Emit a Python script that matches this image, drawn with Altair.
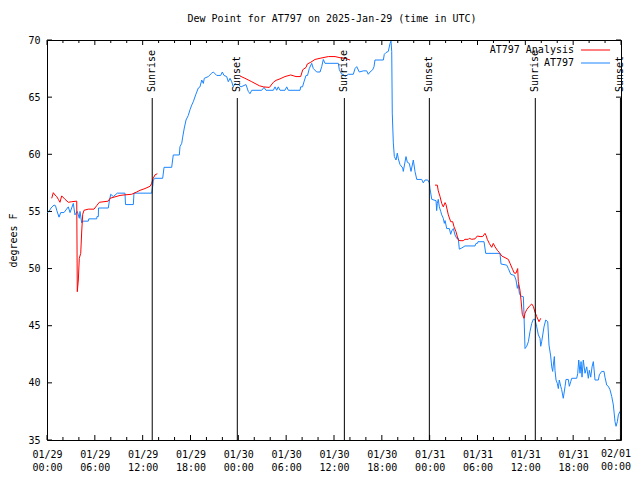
import altair as alt
import pandas as pd

# ---- data (hours since 2025-01-29 00:00 UTC, dew point in F) ----
blue_h = [0.04, 0.25, 0.50, 0.88, 1.07, 1.22, 1.51, 1.72, 2.13, 2.67, 2.89, 3.30, 3.51, 3.80, 4.05, 4.14,
          4.35, 4.48, 5.18, 5.24, 6.23, 6.27, 6.44, 6.46, 7.69, 7.81, 7.99, 8.32, 8.82, 9.78, 9.85, 10.83,
          10.91, 13.13, 13.26, 13.33, 13.55, 14.51, 14.68, 15.64, 15.84, 16.60, 16.68, 16.90, 17.02, 17.22,
          17.44, 17.72, 17.94, 18.15, 18.35, 18.65, 18.98, 19.19, 19.41, 19.61, 19.73, 20.23, 20.66, 20.86,
          21.29, 21.79, 21.99, 22.20, 22.54, 22.74, 22.96, 23.17, 23.37, 23.58, 23.80, 24.00, 24.34, 24.96,
          25.25, 25.46, 25.68, 26.93, 27.22, 27.47, 28.39, 28.60, 28.81, 29.01, 29.23, 29.85, 30.07, 30.27,
          31.74, 31.82, 32.05, 32.24, 32.49, 32.68, 32.90, 33.20, 33.41, 33.83, 34.25, 34.46, 34.66, 34.87,
          36.54, 36.67, 36.97, 37.17, 37.38, 37.80, 38.42, 38.64, 38.85, 39.17, 39.68, 40.10, 40.30, 40.52,
          40.86, 41.02, 41.14, 42.19, 42.31, 42.52, 42.81, 43.03, 43.15, 43.24, 43.31, 43.44, 43.57, 43.78,
          43.94, 44.07, 44.28, 44.62, 44.69, 45.03, 45.20, 45.45, 45.66, 45.95, 46.16, 46.38, 47.00, 47.20,
          47.42, 47.76, 47.96, 48.04, 48.26, 48.80, 48.88, 48.96, 49.08, 49.21, 49.39, 49.51, 49.71, 49.84,
          49.93, 50.14, 50.47, 50.64, 50.77, 50.97, 51.18, 51.39, 51.59, 51.72, 52.02, 52.43, 53.69, 53.81,
          53.98, 54.06, 54.82, 55.03, 56.82, 56.95, 57.67, 57.87, 58.17, 58.62, 58.83, 59.00, 59.12, 59.25,
          59.42, 59.75, 59.84, 59.96, 60.17, 60.38, 60.59, 60.80, 61.00, 61.21, 61.43, 61.63, 61.84, 61.93,
          62.05, 62.34, 62.56, 62.81, 62.97, 63.18, 63.31, 63.43, 63.51, 63.64, 63.72, 63.85, 64.01, 64.14,
          64.26, 64.44, 64.56, 64.76, 64.98, 65.10, 65.39, 65.52, 65.69, 65.82, 66.44, 66.57, 66.70, 66.86,
          66.99, 67.11, 67.27, 67.49, 67.70, 67.90, 68.03, 68.20, 68.37, 68.53, 68.62, 68.74, 69.16, 69.28,
          69.58, 69.87, 69.99, 70.21, 70.41, 70.62, 70.84, 71.04, 71.25, 71.38, 71.54, 71.67, 71.87]
blue_v = [54.9, 55.0, 55.3, 55.56, 55.5, 55.1, 54.5, 54.9, 54.9, 55.4, 54.9, 55.7, 54.7, 55.0, 54.4, 55.0,
          54.0, 54.15, 54.15, 54.35, 54.35, 54.55, 54.55, 55.3, 55.3, 55.85, 56.5, 56.3, 56.6, 56.6, 55.6, 55.6,
          56.6, 56.6, 57.2, 57.75, 57.9, 57.9, 58.86, 58.86, 59.94, 59.94, 60.67, 60.96, 61.5, 62.3,
          63.0, 63.4, 63.9, 64.3, 64.6, 65.2, 65.8, 65.9, 66.5, 66.2, 66.65, 66.8, 67.1, 67.2,
          66.9, 66.9, 67.2, 66.9, 66.8, 66.35, 66.65, 66.35, 65.9, 66.2, 66.1, 66.1, 65.9, 66.1,
          65.5, 65.3, 65.6, 65.6, 65.85, 65.6, 65.6, 65.9, 65.6, 65.9, 65.6, 65.6, 65.9, 65.6,
          65.6, 65.9, 65.9, 66.35, 66.9, 66.9, 67.5, 67.96, 67.5, 67.2, 67.2, 67.67, 68.3, 67.96,
          67.96, 67.4, 67.0, 67.0, 66.8, 67.0, 67.0, 67.5, 67.67, 67.2, 67.3, 67.3, 67.0, 67.2,
          67.4, 67.67, 68.25, 68.25, 68.75, 68.9, 69.0, 69.7, 69.9, 69.0, 63.6, 61.0, 59.8, 59.5,
          60.1, 59.6, 59.1, 58.8, 58.5, 59.8, 59.3, 59.2, 58.5, 59.5, 58.5, 57.8, 57.8, 57.5,
          57.75, 57.75, 57.5, 57.0, 56.06, 55.94, 55.07, 55.7, 56.06, 55.4, 55.0, 54.7, 54.4, 53.96,
          54.2, 53.5, 53.5, 53.0, 53.3, 53.5, 52.94, 52.65, 52.65, 51.7, 51.8, 51.98, 51.98, 52.2,
          52.2, 52.35, 52.35, 51.33, 51.33, 50.4, 50.3, 50.0, 49.5, 49.4, 49.0, 48.27, 48.6, 47.84,
          47.6, 47.54, 45.8, 43.0, 43.2, 43.6, 44.5, 45.2, 45.56, 45.56, 44.9, 44.2, 43.9, 43.2,
          43.6, 44.9, 45.5, 45.35, 43.3, 42.35, 41.4, 41.0, 41.56, 42.3, 41.1, 40.25, 39.96, 39.5,
          40.25, 39.7, 39.4, 38.65, 39.67, 40.3, 40.3, 39.7, 40.1, 40.4, 40.4, 40.8, 42.0, 40.84,
          41.86, 40.5, 42.0, 40.84, 41.4, 40.4, 41.1, 40.5, 41.4, 41.86, 41.2, 40.25, 40.25, 40.7,
          41.0, 41.0, 40.5, 39.8, 39.7, 39.4, 38.8, 38.06, 36.6, 36.2, 36.6, 37.2, 37.5]

# analysis series, three separate runs
red1_h = [0.59, 0.79, 1.00, 1.22, 1.42, 1.63, 1.84, 2.26, 2.67, 3.10, 3.73, 3.80, 3.93, 4.05, 4.23, 4.35,
          4.48, 4.64, 5.18, 5.90, 6.23, 6.56, 7.69, 7.90, 9.16, 9.78, 10.62, 11.25, 11.67, 12.29, 12.92,
          13.13, 13.33, 13.55, 13.84]
red1_v = [56.15, 56.64, 56.44, 56.3, 56.06, 55.8, 56.36, 56.06, 55.8, 55.85, 55.9, 47.98, 49.0, 50.9, 51.33, 53.2,
          54.75, 55.1, 55.2, 55.2, 55.5, 55.8, 55.9, 56.15, 56.4, 56.45, 56.5, 56.7, 56.85, 57.0, 57.2,
          57.45, 57.9, 58.2, 58.3]
red2_h = [24.21, 24.83, 25.68, 26.63, 27.13, 27.89, 28.39, 28.73, 29.23, 29.85, 30.57, 31.23, 31.82, 32.08,
          32.49, 32.65, 33.08, 33.62, 34.25, 35.29, 36.13, 36.75, 37.38, 38.01]
red2_v = [66.85, 66.65, 66.35, 66.0, 65.9, 65.85, 66.3, 66.47, 66.6, 66.8, 66.94, 66.8, 66.8, 67.4,
          67.6, 67.9, 68.05, 68.3, 68.4, 68.55, 68.55, 68.45, 68.4, 68.25]
red3_h = [48.67, 48.96, 49.08, 49.30, 49.51, 49.71, 49.93, 50.05, 50.34, 50.64, 50.89, 51.05, 51.30, 51.59,
          51.80, 52.22, 52.43, 52.85, 52.97, 53.27, 53.69, 53.98, 54.32, 54.65, 54.94, 55.07, 55.23, 55.48,
          55.78, 55.98, 56.20, 56.49, 56.74, 57.04, 57.45, 57.87, 58.08, 58.42, 58.62, 58.83, 59.04, 59.12,
          59.33, 59.46, 59.62, 59.84, 59.96, 60.17, 60.50, 60.80, 61.00, 61.21, 61.43, 61.72, 61.93]
red3_v = [57.3, 57.3, 56.8, 56.3, 55.7, 55.4, 55.77, 55.6, 54.7, 54.1, 54.1, 53.67, 53.23, 52.5,
          52.44, 52.44, 52.56, 52.56, 52.65, 52.56, 52.6, 52.85, 52.8, 52.8, 53.08, 52.9, 52.56, 52.2,
          51.86, 52.2, 51.9, 51.6, 51.4, 51.1, 50.96, 50.8, 50.46, 49.9, 49.6, 49.6, 50.0, 48.85,
          48.1, 47.25, 46.0, 45.65, 46.1, 46.4, 46.7, 46.9, 46.7, 46.2, 45.8, 45.35, 45.65]

sun_h = [13.2, 23.87, 37.3, 47.96, 61.25, 71.93]
sun_lbl = ["Sunrise", "Sunset", "Sunrise", "Sunset", "Sunrise", "Sunset"]

x_major = [0, 6, 12, 18, 24, 30, 36, 42, 48, 54, 60, 66, 72]
x_minor = [2, 4, 8, 10, 14, 16, 20, 22, 26, 28, 32, 34, 38, 40, 44, 46, 50, 52, 56, 58, 62, 64, 68, 70]
y_major = [35, 40, 45, 50, 55, 60, 65, 70]
last_tick_label = "02/01\n00:00"

series_names = ["AT797 Analysis", "AT797"]
series_colors = ["#ff0000", "#1a85ff"]
title_text = "Dew Point for AT797 on 2025-Jan-29 (time in UTC)"

FONT = "DejaVu Sans Mono"
W, H = 574, 400
LBL_PAD, LBL_LH = 9, 13

blue_df = pd.DataFrame({"h": blue_h, "v": blue_v})
red_df = pd.concat([
    pd.DataFrame({"h": red1_h, "v": red1_v, "seg": 1}),
    pd.DataFrame({"h": red2_h, "v": red2_v, "seg": 2}),
    pd.DataFrame({"h": red3_h, "v": red3_v, "seg": 3}),
], ignore_index=True)
sun_df = pd.DataFrame({"h": sun_h, "lbl": sun_lbl})
xmaj_df = pd.DataFrame({"h": x_major})
xmin_df = pd.DataFrame({"h": x_minor})
ymaj_df = pd.DataFrame({"v": y_major})
one_df = pd.DataFrame({"t": [title_text]})
last_df = pd.DataFrame({"h": [x_major[-1]], "t": [last_tick_label]})

xs = alt.Scale(domain=[0, 72], nice=False, zero=False)
ys = alt.Scale(domain=[35, 70], nice=False, zero=False)

label_expr = ("datum.value >= 72 ? '' : "
              "['01/' + (29 + floor(datum.value / 24)), "
              "(datum.value % 24 < 10 ? '0' : '') + (datum.value % 24) + ':00']")

x_axis = alt.Axis(values=x_major, labelExpr=label_expr, ticks=False, domain=False, grid=False,
                  labelFont=FONT, labelFontSize=10, labelColor="black", labelPadding=LBL_PAD,
                  labelLineHeight=LBL_LH, labelAngle=0, title=None, labelOverlap=False, labelFlush=False)
y_axis = alt.Axis(values=y_major, ticks=False, domain=False, grid=False,
                  labelFont=FONT, labelFontSize=10, labelColor="black", labelPadding=7,
                  title="degrees F", titleFont=FONT, titleFontSize=10, titleFontWeight="normal",
                  titleColor="black", titleX=-34, titleY=200, titleAngle=270, titleAlign="center",
                  titleBaseline="middle")

X = alt.X("h:Q", scale=xs, axis=x_axis)
Y = alt.Y("v:Q", scale=ys, axis=y_axis)

blue = alt.Chart(blue_df).mark_line(color=series_colors[1], strokeWidth=1).encode(x=X, y=Y)
red = alt.Chart(red_df).mark_line(color=series_colors[0], strokeWidth=1).encode(
    x=X, y=Y, detail="seg:N")

sun_rule = alt.Chart(sun_df).mark_rule(color="black", strokeWidth=1).encode(
    x=X, y=alt.value(H), y2=alt.value(58))
sun_text = alt.Chart(sun_df).mark_text(font=FONT, fontSize=10, angle=270, align="left",
                                       baseline="middle", color="black").encode(
    x=X, y=alt.value(52), text="lbl:N")

tick_style = dict(color="black", strokeWidth=1)
xmaj_b = alt.Chart(xmaj_df).mark_rule(**tick_style).encode(x=X, y=alt.value(H), y2=alt.value(H - 5))
xmaj_t = alt.Chart(xmaj_df).mark_rule(**tick_style).encode(x=X, y=alt.value(0), y2=alt.value(5))
xmin_b = alt.Chart(xmin_df).mark_rule(**tick_style).encode(x=X, y=alt.value(H), y2=alt.value(H - 3))
xmin_t = alt.Chart(xmin_df).mark_rule(**tick_style).encode(x=X, y=alt.value(0), y2=alt.value(3))
ymaj_l = alt.Chart(ymaj_df).mark_rule(**tick_style).encode(y=Y, x=alt.value(0), x2=alt.value(5))
ymaj_r = alt.Chart(ymaj_df).mark_rule(**tick_style).encode(y=Y, x=alt.value(W), x2=alt.value(W - 5))

last_label = alt.Chart(last_df).mark_text(font=FONT, fontSize=10, align="right", baseline="top",
                                          lineBreak="\n", lineHeight=LBL_LH, color="black",
                                          dx=10).encode(
    x=X, y=alt.value(H + LBL_PAD), text="t:N")

title_mark = alt.Chart(one_df).mark_text(font=FONT, fontSize=10, align="center", baseline="middle",
                                         color="black").encode(
    x=alt.value(W / 2 - 2), y=alt.value(-21), text="t:N")

legend_layers = []
for i, (name, col) in enumerate(zip(series_names, series_colors)):
    ldf = pd.DataFrame({"name": [name]})
    yy = 10 + 13 * i
    legend_layers.append(alt.Chart(ldf).mark_text(font=FONT, fontSize=10, align="right",
                                                  baseline="middle", color="black").encode(
        x=alt.value(527), y=alt.value(yy), text="name:N"))
    legend_layers.append(alt.Chart(ldf).mark_rule(strokeWidth=1, color=col).encode(
        x=alt.value(534), x2=alt.value(563), y=alt.value(yy)))

chart = alt.layer(
    blue, red, sun_rule, sun_text,
    xmaj_b, xmaj_t, xmin_b, xmin_t, ymaj_l, ymaj_r,
    last_label, title_mark, *legend_layers,
).properties(
    width=W, height=H,
    padding={"left": 39, "top": 32, "right": 11, "bottom": 32},
    autosize=alt.AutoSizeParams(type="none"),
    background="white",
).configure_view(stroke="black", strokeWidth=1)

chart.save("out.html", embed_options={"renderer": "svg", "actions": False})
